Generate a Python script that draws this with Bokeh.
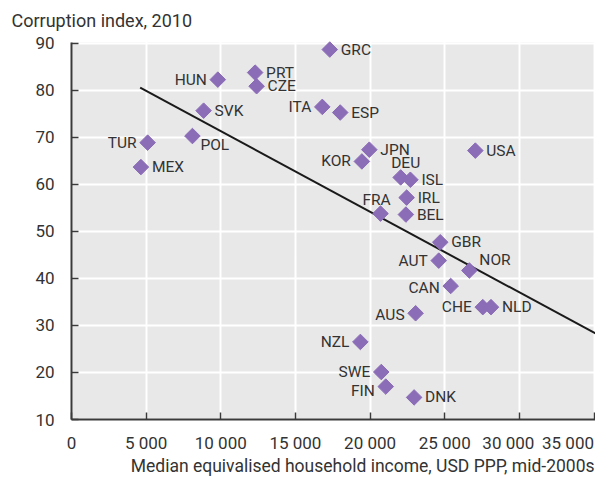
from bokeh.plotting import figure
from bokeh.models import ColumnDataSource, FixedTicker, Range1d, Label, BoxAnnotation
from bokeh.embed import file_html
from bokeh.resources import INLINE
from bokeh.core.properties import value
import math

COUNTRIES = ["GRC", "HUN", "PRT", "CZE", "ITA", "ESP", "SVK", "TUR", "POL", "MEX",
             "JPN", "KOR", "USA", "DEU", "ISL", "IRL", "FRA", "BEL", "GBR", "AUT",
             "NOR", "CAN", "CHE", "NLD", "AUS", "NZL", "SWE", "FIN", "DNK"]
INCOME = [17300, 9800, 12300, 12400, 16800, 18000, 8850, 5100, 8100, 4650,
          19950, 19450, 27050, 22050, 22700, 22450, 20700, 22400, 24700, 24600,
          26650, 25400, 27550, 28100, 23050, 19350, 20750, 21050, 22950]
CORRUPTION = [88.7, 82.3, 83.8, 80.9, 76.5, 75.3, 75.7, 68.9, 70.3, 63.7,
              67.4, 64.9, 67.2, 61.5, 61.0, 57.2, 53.8, 53.6, 47.7, 43.8,
              41.7, 38.4, 33.9, 33.9, 32.6, 26.5, 20.1, 17.0, 14.7]
LABEL_SIDE = ["r", "l", "r", "r", "l", "r", "r", "l", "br", "r",
              "r", "l", "r", "a", "r", "r", "a", "r", "r", "l",
              "ar", "l", "l", "r", "l", "l", "l", "l", "r"]

TREND_X = [4600, 35100]
TREND_Y = [80.6, 28.3]

X_TICKS = [0, 5000, 10000, 15000, 20000, 25000, 30000, 35000]
X_TICK_LABELS = ["0", "5 000", "10 000", "15 000", "20 000", "25 000", "30 000", "35 000"]
Y_TICKS = [10, 20, 30, 40, 50, 60, 70, 80, 90]

TITLE = "Corruption index, 2010"
X_TITLE = "Median equivalised household income, USD PPP, mid-2000s"

FONT = "Roboto"
TEXT = "#333333"
PURPLE = "#8b6cb7"

# layout (pixels)
W, H = 595, 477
AXIS_X, TOP, AXIS_Y = 71, 42, 419     # pixel column of y axis, top of grey area, pixel row of x axis
Y_MIN, Y_MAX = 10, 90.2
X_MIN, X_MAX = 0, 35100
py_per_unit = (AXIS_Y - TOP) / (Y_MAX - Y_MIN)
px_per_unit = (W - AXIS_X) / (X_MAX - X_MIN)
# the frame covers the whole canvas, so that texts outside the grey area are not clipped
y_start = Y_MIN - (H - AXIS_Y) / py_per_unit
y_end = Y_MAX + TOP / py_per_unit
x_start = X_MIN - AXIS_X / px_per_unit
BASE_FIX = 6   # Label alphabetic baseline correction (px)

p = figure(width=W, height=H, output_backend="svg", toolbar_location=None,
           x_range=Range1d(x_start, X_MAX), y_range=Range1d(y_start, y_end),
           min_border_left=0, min_border_right=0, min_border_top=0, min_border_bottom=0)

p.background_fill_color = "white"
p.border_fill_color = "white"
p.outline_line_color = None

# grey plotting area
p.add_layout(BoxAnnotation(left=X_MIN, bottom=Y_MIN, top=Y_MAX, fill_color="#e8e8e8",
                           fill_alpha=1, line_color=None, level="image"))

p.add_layout(Label(x=11, y=H - 26 + BASE_FIX, x_units="screen", y_units="screen", text=TITLE,
                   text_align="left", text_baseline="alphabetic", text_font=FONT,
                   text_font_size="18px", text_color=TEXT))

p.xgrid.ticker = FixedTicker(ticks=X_TICKS)
p.ygrid.ticker = FixedTicker(ticks=Y_TICKS)
for g in (p.xgrid, p.ygrid):
    g.grid_line_color = "white"
    g.grid_line_width = 2

# last two tick labels are shifted left in the original, drawn as labels
shifted = {30000: -11, 35000: -26}
overrides = {}
for t, lab in zip(X_TICKS, X_TICK_LABELS):
    overrides[t] = "" if t in shifted else lab

p.xaxis.ticker = FixedTicker(ticks=X_TICKS)
p.xaxis.major_label_overrides = overrides
p.xaxis.fixed_location = Y_MIN
p.xaxis.bounds = (X_MIN, X_MAX)
p.yaxis.ticker = FixedTicker(ticks=Y_TICKS)
p.yaxis.fixed_location = X_MIN
p.yaxis.bounds = (Y_MIN, Y_MAX)

for ax in (p.xaxis, p.yaxis):
    ax.axis_line_color = "#3a3a3a"
    ax.axis_line_width = 2
    ax.major_tick_line_color = "#3a3a3a"
    ax.major_tick_line_width = 1.5
    ax.major_tick_in = 7
    ax.major_tick_out = 0
    ax.minor_tick_line_color = None
    ax.major_label_text_font = FONT
    ax.major_label_text_font_size = "17px"
    ax.major_label_text_color = TEXT

p.yaxis.major_label_standoff = 17
p.xaxis.major_label_standoff = 13

for t, lab in zip(X_TICKS, X_TICK_LABELS):
    if t in shifted:
        p.add_layout(Label(x=t, y=H - 448 + BASE_FIX, x_units="data", y_units="screen", text=lab,
                           x_offset=shifted[t], text_align="center",
                           text_baseline="alphabetic", text_font=FONT,
                           text_font_size="17px", text_color=TEXT))

p.add_layout(Label(x=W - 1, y=H - 472 + BASE_FIX + 1, x_units="screen", y_units="screen",
                   text=X_TITLE, text_align="right", text_baseline="alphabetic",
                   text_font=FONT, text_font_size="17.5px", text_color=TEXT))

p.line(TREND_X, TREND_Y, line_color="#1a1a1a", line_width=2)

src = ColumnDataSource(dict(x=INCOME, y=CORRUPTION, name=COUNTRIES))
p.scatter("x", "y", source=src, marker="square", angle=math.pi / 4, size=11,
          fill_color=PURPLE, line_color=PURPLE)

# label placement: (align, x_offset, y_offset)
PLACE = {"r": ("left", 11, 0), "l": ("right", -11, 0), "a": ("center", 0, -14),
         "ar": ("left", 10, -10), "br": ("left", 8, 9)}
special_dx = {"DEU": 5, "FRA": -4}
special_dy = {"CAN": 2, "AUS": 2, "FIN": 4}

groups = {}
for c, x, y, s in zip(COUNTRIES, INCOME, CORRUPTION, LABEL_SIDE):
    align, dx, dy = PLACE[s]
    dx += special_dx.get(c, 0)
    dy += special_dy.get(c, 0)
    g = groups.setdefault(align, dict(x=[], y=[], t=[], dx=[], dy=[]))
    g["x"].append(x); g["y"].append(y); g["t"].append(c); g["dx"].append(dx); g["dy"].append(dy)

for align, g in groups.items():
    s = ColumnDataSource(g)
    p.text("x", "y", text="t", source=s, x_offset="dx", y_offset="dy",
           text_align=align, text_baseline="middle", text_font=value(FONT),
           text_font_size="15.5px", text_color=TEXT)

open("out.html", "w").write(file_html(p, INLINE))
